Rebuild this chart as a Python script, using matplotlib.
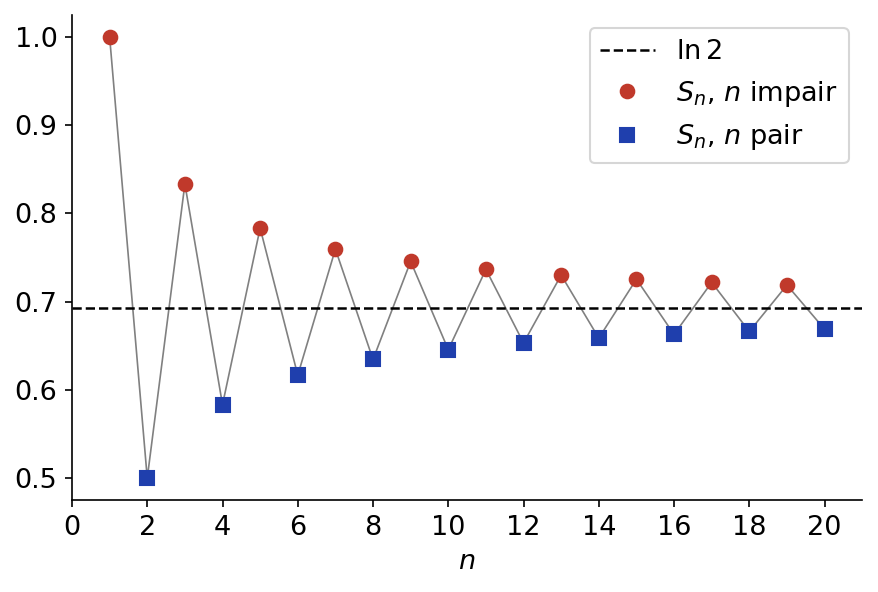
import matplotlib
matplotlib.use("Agg")
import matplotlib.pyplot as plt
import numpy as np

n_odd = [1, 3, 5, 7, 9, 11, 13, 15, 17, 19]
s_odd = [1.0, 0.8333, 0.7833, 0.7595, 0.7456, 0.7365, 0.7301, 0.7254, 0.7218, 0.7188]
n_even = [2, 4, 6, 8, 10, 12, 14, 16, 18, 20]
s_even = [0.5, 0.5833, 0.6167, 0.6345, 0.6456, 0.6532, 0.6587, 0.6629, 0.6662, 0.6688]
ln2 = 0.6931

n_all = sorted(n_odd + n_even)
d = dict(zip(n_odd, s_odd)); d.update(zip(n_even, s_even))
s_all = [d[k] for k in n_all]

plt.rcParams['font.size'] = 13
fig = plt.figure(figsize=(878/150, 592/150), dpi=150)
ax = fig.add_axes([0.082, 0.155, 0.9, 0.82])

ax.plot(n_all, s_all, color='gray', lw=0.8, zorder=1)
ax.axhline(ln2, color='black', ls='--', lw=1.2, label=r'$\ln 2$', zorder=2)
ax.plot(n_odd, s_odd, 'o', color='#c0392b', ms=6.5, ls='none', label=r'$S_n$, $n$ impair', zorder=3)
ax.plot(n_even, s_even, 's', color='#1f3fad', ms=6.5, ls='none', label=r'$S_n$, $n$ pair', zorder=3)

ax.set_xlim(0, 21)
ax.set_ylim(0.475, 1.025)
ax.set_xticks(range(0, 21, 2))
ax.set_xlabel(r'$n$')
ax.spines['top'].set_visible(False)
ax.spines['right'].set_visible(False)
ax.legend(loc='upper right')

fig.savefig('out.png', dpi=150)
